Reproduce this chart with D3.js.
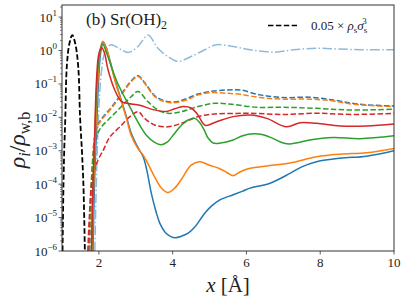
<!DOCTYPE html>
<html><head><meta charset="utf-8">
<script src="https://cdn.jsdelivr.net/npm/d3@7"></script>
<style>
body{margin:0;background:#fff}
text{font-family:"Liberation Serif","DejaVu Serif",serif;fill:#222}
</style>
</head><body>
<svg id="c" width="407" height="303"></svg>
<script>
// ---------- data (x in Å, value = rho_i / rho_w,b) ----------
const xTicks = [2, 4, 6, 8, 10];
const yTickExps = [-6, -5, -4, -3, -2, -1, 0, 1];

const surfaceRef = [ // 0.05 x rho_s sigma_s^3 (black dashed)
  [1.015,1e-6],[1.04,1e-4],[1.06,1e-3],[1.09,1e-2],[1.13,0.33],[1.2,1.6],[1.28,2.9],
  [1.36,1.6],[1.44,0.33],[1.49,1e-2],[1.54,1e-3],[1.58,1e-4],[1.62,1e-6]];

const blueSolid = [
  [1.84,1e-6],[1.88,1e-4],[1.93,3e-3],[1.99,0.12],[2.05,0.9],[2.12,1.8],[2.2,1.2],[2.3,0.5],
  [2.45,0.12],[2.6,0.035],[2.75,0.01],[2.88,0.0033],[3.05,0.0013],[3.2,6.6e-4],[3.3,2.6e-4],
  [3.42,5.4e-5],[3.55,1.5e-5],[3.65,6.8e-6],[3.8,3.6e-6],[3.95,2.7e-6],[4.07,2.5e-6],
  [4.25,2.8e-6],[4.42,3.4e-6],[4.6,5.2e-6],[4.87,1.35e-5],[5.05,2.2e-5],[5.28,3.4e-5],
  [5.64,4.8e-5],[5.9,6.2e-5],[6.1,7.6e-5],[6.64,1.07e-4],[7.18,2.1e-4],[7.5,3.3e-4],
  [7.9,4.7e-4],[8.54,6e-4],[9.26,6.9e-4],[10,1e-3]];

const orangeSolid = [
  [1.82,1e-6],[1.86,1e-4],[1.91,3e-3],[1.97,0.12],[2.03,0.9],[2.1,1.9],[2.2,1.2],[2.3,0.48],
  [2.45,0.11],[2.6,0.032],[2.75,0.009],[2.88,0.0028],[3.05,0.0012],[3.2,7.4e-4],[3.35,3.7e-4],
  [3.51,1.66e-4],[3.7,7.5e-5],[3.87,5.6e-5],[4.05,7.5e-5],[4.23,1.35e-4],[4.5,3.7e-4],
  [4.73,4.7e-4],[5.0,3.7e-4],[5.28,2.9e-4],[5.48,2.2e-4],[5.64,1.8e-4],[5.85,2.4e-4],
  [6.1,3.0e-4],[6.55,3.5e-4],[7.18,4.3e-4],[7.9,6.6e-4],[8.54,7.9e-4],[9.26,8.7e-4],[10,1.17e-3]];

const greenSolid = [
  [1.8,1e-6],[1.84,1e-4],[1.89,3e-3],[1.95,0.12],[2.02,0.85],[2.1,1.6],[2.2,0.9],[2.35,0.3],
  [2.5,0.11],[2.65,0.05],[2.8,0.025],[2.95,0.012],[3.1,0.006],[3.3,0.0028],[3.5,0.0018],
  [3.69,0.0015],[3.85,0.0018],[4.05,0.0033],[4.25,0.006],[4.42,0.0083],[4.6,0.0093],
  [4.72,0.0072],[4.84,0.0045],[4.96,0.0024],[5.1,0.0017],[5.3,0.0017],
  [5.64,0.0021],[5.9,0.0028],[6.19,0.0032],[6.45,0.003],[6.73,0.0023],[7.0,0.0017],
  [7.18,0.0016],[7.45,0.0018],[7.72,0.0021],[8.35,0.0025],[9.08,0.0023],[10,0.0028]];

const redSolid = [
  [1.8,1e-6],[1.84,1e-4],[1.88,2e-3],[1.93,0.1],[1.98,0.6],[2.03,1.05],[2.08,1.2],[2.15,0.85],
  [2.25,0.26],[2.43,0.066],[2.61,0.03],[2.79,0.026],[3.11,0.023],[3.47,0.017],[3.84,0.015],
  [4.05,0.018],[4.28,0.021],[4.5,0.019],[4.68,0.012],[4.88,0.0058],[5.19,0.0074],[5.64,0.0105],
  [6.1,0.0117],[6.55,0.0093],[7.09,0.0052],[7.45,0.0069],[7.9,0.0066],[8.54,0.0055],
  [9.26,0.0055],[10,0.0063]];

const blueDashed = [
  [1.75,1e-6],[1.79,3e-5],[1.83,4e-4],[1.88,2.2e-3],[1.96,5.5e-3],[2.07,9e-3],[2.34,0.02],
  [2.61,0.05],[2.88,0.125],[3.06,0.175],[3.24,0.11],[3.51,0.045],[3.78,0.031],[4.05,0.029],
  [4.37,0.036],[4.69,0.05],[5.05,0.06],[5.5,0.066],[5.83,0.066],[6.37,0.047],[6.99,0.039],
  [7.72,0.04],[8.35,0.033],[8.9,0.026],[9.44,0.023],[10,0.022]];

const orangeDashed = [
  [1.74,1e-6],[1.78,3e-5],[1.82,4e-4],[1.87,2e-3],[1.95,5e-3],[2.07,8.3e-3],[2.34,0.0186],
  [2.61,0.047],[2.88,0.117],[3.06,0.166],[3.24,0.105],[3.51,0.042],[3.78,0.0295],[4.05,0.0275],
  [4.37,0.033],[4.69,0.047],[5.05,0.055],[5.4,0.053],[5.83,0.049],[6.37,0.039],[6.99,0.035],
  [7.72,0.035],[8.35,0.031],[8.9,0.0245],[10,0.021]];

const greenDashed = [
  [1.73,1e-6],[1.77,3e-5],[1.82,3e-4],[1.88,1.4e-3],[1.97,3.3e-3],[2.07,5.2e-3],[2.34,0.0105],
  [2.61,0.021],[2.88,0.042],[3.06,0.059],[3.33,0.0295],[3.6,0.0166],[3.87,0.0132],[4.23,0.0148],
  [4.69,0.021],[5.14,0.0263],[5.6,0.0245],[6.28,0.02],[7.0,0.02],[7.9,0.0186],[8.8,0.0166],[10,0.0174]];

const redDashed = [
  [1.7,1e-6],[1.74,1e-5],[1.8,1e-4],[1.87,2.5e-4],[1.95,4.5e-4],[2.06,8e-4],[2.12,1.05e-3],
  [2.3,2.6e-3],[2.57,5.2e-3],[2.84,0.0105],[3.06,0.0148],[3.24,0.0093],[3.51,0.0059],
  [3.87,0.0052],[4.23,0.0066],[4.69,0.0105],[5.14,0.0126],[5.6,0.013],[6.1,0.0132],
  [6.99,0.0122],[7.9,0.0132],[8.9,0.0122],[10,0.0132]];

const lightBlueDashDot = [
  [1.89,1e-6],[1.93,1e-4],[1.97,3e-3],[2.02,0.05],[2.08,0.3],[2.15,0.8],[2.25,1.3],[2.34,1.48],
  [2.61,1.05],[2.79,0.87],[3.06,1.32],[3.33,2.9],[3.6,1.17],[3.87,0.66],[4.14,0.47],[4.5,0.66],
  [4.87,1.05],[5.18,1.48],[5.64,1.32],[6.1,1.05],[6.73,0.89],[7.27,1.05],[7.9,1.17],
  [8.54,1.1],[9.26,1.05],[10,1.05]];

// ---------- drawing ----------
const svg = d3.select("#c");
const L = 62, R = 394, T = 5, B = 251;
const x = d3.scaleLinear().domain([1, 10]).range([L, R]);
const y = d3.scaleLog().domain([1e-6, 23]).range([B, T]);

svg.append("defs").append("clipPath").attr("id", "clip")
  .append("rect").attr("x", L).attr("y", T).attr("width", R - L).attr("height", B - T);

const line = d3.line().x(d => x(d[0])).y(d => y(Math.max(d[1], 1e-7)))
  .curve(d3.curveCatmullRom.alpha(0.5));

const g = svg.append("g").attr("clip-path", "url(#clip)");
const series = [
  {d: lightBlueDashDot, c: "#8fbbd9", dash: "9.6,2.4,1.5,2.4"},
  {d: blueDashed, c: "#1f77b4", dash: "5.5,2.4"},
  {d: orangeDashed, c: "#ff7f0e", dash: "5.5,2.4"},
  {d: greenDashed, c: "#2ca02c", dash: "5.5,2.4"},
  {d: redDashed, c: "#d62728", dash: "5.5,2.4"},
  {d: blueSolid, c: "#1f77b4", dash: null},
  {d: orangeSolid, c: "#ff7f0e", dash: null},
  {d: greenSolid, c: "#2ca02c", dash: null},
  {d: redSolid, c: "#d62728", dash: null},
  {d: surfaceRef, c: "#000", dash: "5.5,2.4", w: 1.8},
];
series.forEach(s => {
  g.append("path").attr("d", line(s.d)).attr("fill", "none")
    .attr("stroke", s.c).attr("stroke-width", s.w || 1.5)
    .attr("stroke-dasharray", s.dash);
});

// axes frame
svg.append("rect").attr("x", L).attr("y", T).attr("width", R - L).attr("height", B - T)
  .attr("fill", "none").attr("stroke", "#333").attr("stroke-width", 1);

// x ticks
const xa = svg.append("g");
xTicks.forEach(t => {
  xa.append("line").attr("x1", x(t)).attr("x2", x(t)).attr("y1", B).attr("y2", B + 3.5)
    .attr("stroke", "#333").attr("stroke-width", 0.8);
  xa.append("text").attr("x", x(t)).attr("y", B + 16).attr("text-anchor", "middle")
    .attr("font-size", 13).text(t);
});

// y ticks (log)
const ya = svg.append("g");
yTickExps.forEach(e => {
  const v = Math.pow(10, e);
  ya.append("line").attr("x1", L - 3.5).attr("x2", L).attr("y1", y(v)).attr("y2", y(v))
    .attr("stroke", "#333").attr("stroke-width", 0.8);
  const tx = ya.append("text").attr("x", L - 5).attr("y", y(v) + 4.5).attr("text-anchor", "end")
    .attr("font-size", 13);
  tx.append("tspan").text("10");
  tx.append("tspan").attr("dy", -6).attr("font-size", 9).text(e < 0 ? "\u2212" + (-e) : e);
  for (let m = 2; m <= 9; m++) {
    const mv = m * v;
    if (mv > 23) break;
    ya.append("line").attr("x1", L - 2).attr("x2", L).attr("y1", y(mv)).attr("y2", y(mv))
      .attr("stroke", "#333").attr("stroke-width", 0.6);
  }
});

// axis labels
const xl = svg.append("text").attr("x", (L + R) / 2).attr("y", 292).attr("text-anchor", "middle")
  .attr("font-size", 21);
xl.append("tspan").attr("font-style", "italic").text("x");
xl.append("tspan").text(" [Å]");

const yl = svg.append("text").attr("transform", "translate(25,140) rotate(-90)")
  .attr("text-anchor", "middle").attr("font-size", 24);
yl.append("tspan").attr("font-style", "italic").text("ρ");
yl.append("tspan").attr("font-style", "italic").attr("font-size", 16).attr("dy", 5).text("i");
yl.append("tspan").attr("dy", -5).text("/");
yl.append("tspan").attr("font-style", "italic").text("ρ");
yl.append("tspan").attr("font-size", 16).attr("dy", 5).text("w,b");

// title
const tt = svg.append("text").attr("x", 86).attr("y", 25).attr("font-size", 17);
tt.append("tspan").text("(b) Sr(OH)");
tt.append("tspan").attr("font-size", 12).attr("dy", 4).text("2");

// legend
svg.append("line").attr("x1", 268).attr("x2", 297).attr("y1", 25.5).attr("y2", 25.5)
  .attr("stroke", "#000").attr("stroke-width", 1.5).attr("stroke-dasharray", "5.5,2.4");
const lg = svg.append("text").attr("x", 311).attr("y", 30).attr("font-size", 13);
lg.append("tspan").text("0.05 × ");
lg.append("tspan").attr("font-style", "italic").text("ρ");
lg.append("tspan").attr("font-size", 9).attr("dy", 3).text("s");
lg.append("tspan").attr("font-style", "italic").attr("dy", -3).text("σ");
lg.append("tspan").attr("font-size", 9).attr("dy", 3).text("s");
lg.append("tspan").attr("font-size", 9).attr("dx", -5).attr("dy", -9).text("3");
</script>
</body></html>
